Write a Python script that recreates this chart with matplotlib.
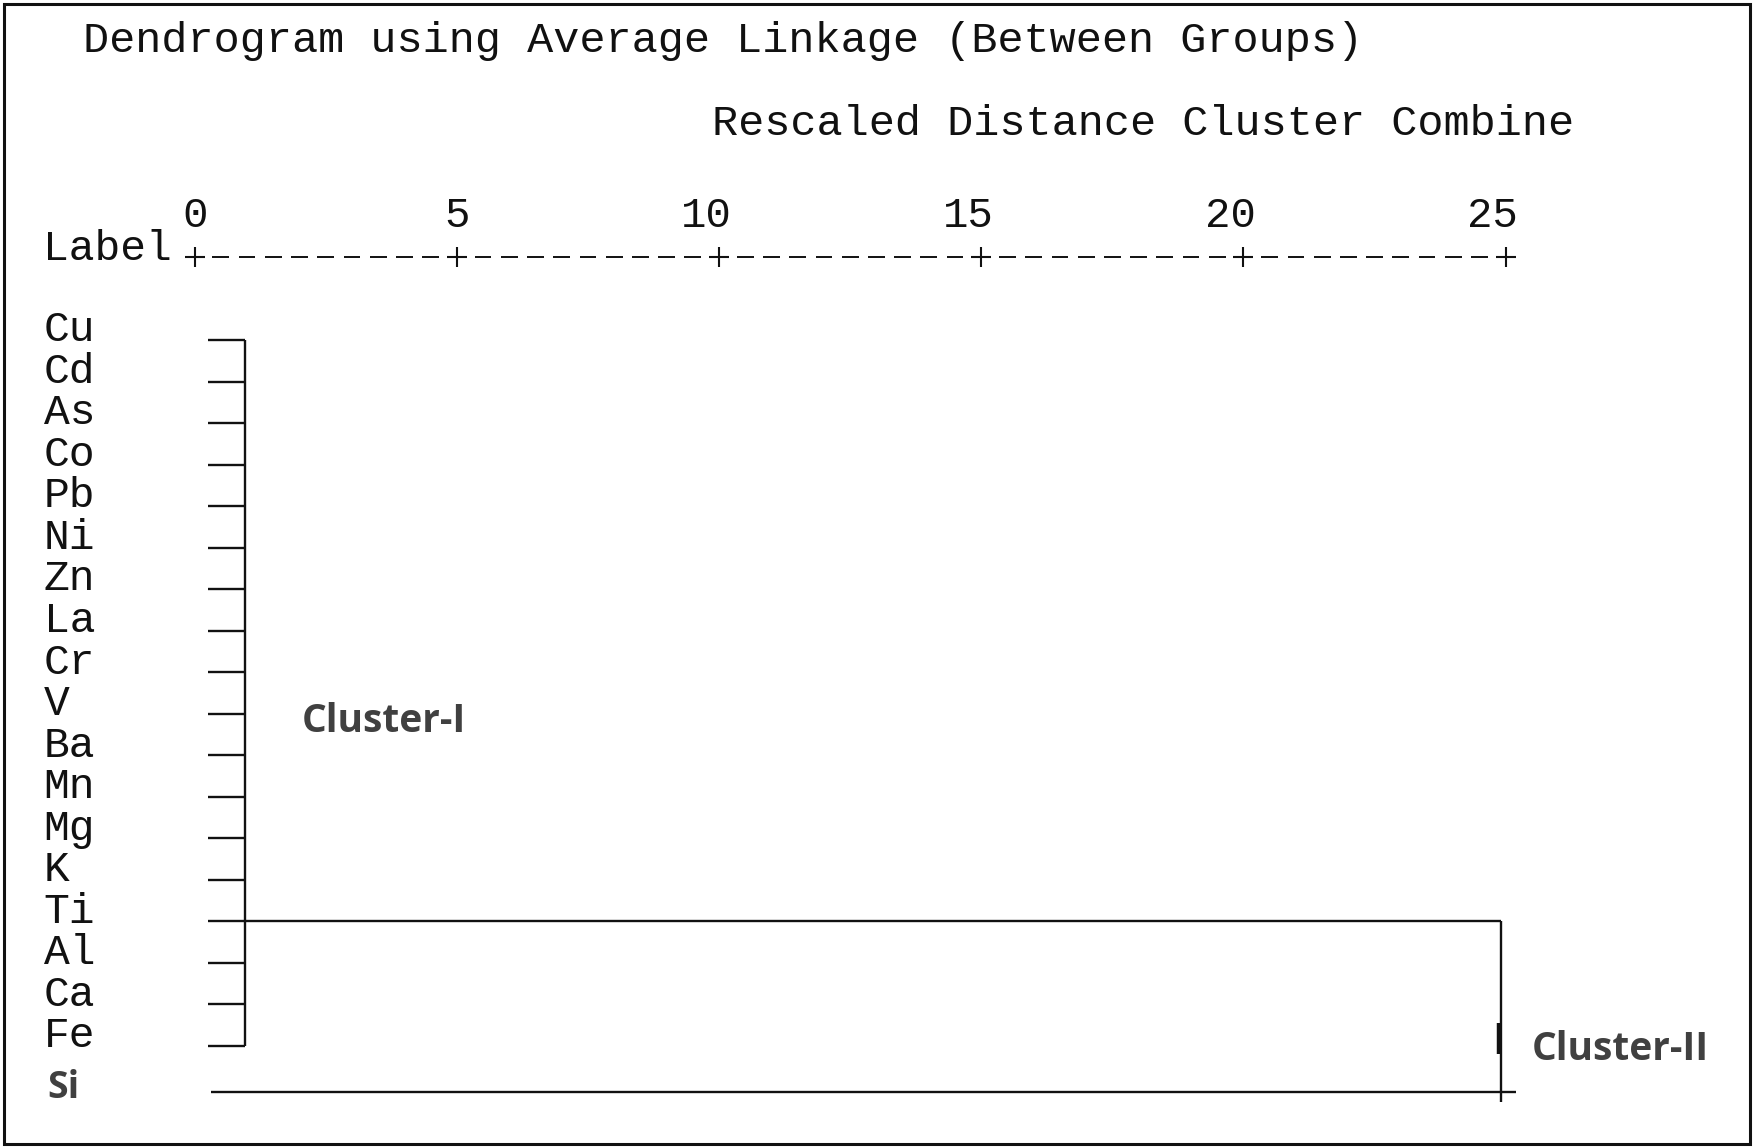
import numpy as np
import matplotlib
matplotlib.use("Agg")
import matplotlib.pyplot as plt
from matplotlib.patches import Rectangle

# ---------------- data ----------------
title = "Dendrogram using Average Linkage (Between Groups)"
subtitle = "Rescaled Distance Cluster Combine"
axis_label = "Label"
tick_values = [0, 5, 10, 15, 20, 25]
tick_labels = ["0", "5", "10", "15", "20", "25"]
cluster1_labels = ["Cu", "Cd", "As", "Co", "Pb", "Ni", "Zn", "La", "Cr", "V",
                   "Ba", "Mn", "Mg", "K", "Ti", "Al", "Ca", "Fe"]
outlier_label = "Si"
leaf_start = 0.26        # where leaf stubs begin (rescaled distance)
cluster1_join = 0.96     # rescaled distance where Cluster-I members combine
final_join = 24.92       # rescaled distance where Si joins Cluster-I
si_end = 25.19
connector_label = "Ti"   # row from which the final connector leaves
cluster_names = ["Cluster-I", "Cluster-II"]

# ---------------- figure ----------------
fig = plt.figure(figsize=(17.54, 11.48), dpi=100)
ax = fig.add_axes([0, 0, 1, 1])
ax.set_xlim(-3.711, 29.735)
ax.set_ylim(19.458, -8.191)
ax.axis("off")

mono = "Liberation Mono"
sans = ["Open Sans", "DejaVu Sans"]
ink = "#111111"
lw = 1.7

# titles
ax.text(-2.124, -6.95, title, family=mono, fontsize=31.3, color=ink, va="baseline", ha="left")
ax.text(9.862, -4.94, subtitle, family=mono, fontsize=31.3, color=ink, va="baseline", ha="left")

# ruler (axis) with tick numbers
ticks = np.array(tick_values, dtype=float)
for t, lab in zip(ticks, tick_labels):
    ax.text(t - (len(lab) - 1) * 0.25, -2.73, lab, family=mono, fontsize=30.5,
            color=ink, va="baseline", ha="center")
ax.text(-2.89, -1.93, axis_label, family=mono, fontsize=31, color=ink,
        va="baseline", ha="left")
ax.plot(ticks, np.full_like(ticks, -2.0), ls="none", marker="+", ms=15,
        mew=1.5, color=ink)
dash_centers = (ticks[:-1, None] + 0.5 * np.arange(1, 10)[None, :]).ravel()
ax.hlines(np.full_like(dash_centers, -2.0), dash_centers - 0.16,
          dash_centers + 0.16, color=ink, lw=1.4)

# leaf labels
rows = np.arange(len(cluster1_labels))
for r, lab in zip(rows, cluster1_labels):
    ax.text(-2.88, r + 0.03, lab, family=mono, fontsize=31, color=ink,
            va="baseline", ha="left")
si_row = len(cluster1_labels) + 0.1
ax.text(-2.80, si_row + 0.15, outlier_label, family=sans, fontsize=27,
        fontweight="bold", color="#404040", va="baseline", ha="left")

# dendrogram lines
ax.hlines(rows, leaf_start, cluster1_join, color=ink, lw=lw)
ax.vlines(cluster1_join, rows[0], rows[-1], color=ink, lw=lw)
ti_row = cluster1_labels.index(connector_label)
ax.hlines(ti_row, cluster1_join, final_join, color=ink, lw=lw)
ax.vlines(final_join, ti_row, si_row + 0.25, color=ink, lw=lw)
ax.hlines(si_row, leaf_start + 0.05, si_end, color=ink, lw=lw)
ax.vlines(final_join - 0.05, 16.45, 17.2, color=ink, lw=3.2)

# cluster annotations
ax.text(2.04, 9.43, cluster_names[0], family=sans, fontsize=28, fontweight="bold",
        color="#404040", va="baseline", ha="left")
ax.text(25.49, 17.34, cluster_names[1], family=sans, fontsize=28, fontweight="bold",
        color="#404040", va="baseline", ha="left")

# frame
fig.patches.append(Rectangle((0.0025, 0.0035), 0.995, 0.993, transform=fig.transFigure,
                             fill=False, lw=2.2, edgecolor="#111111"))

fig.savefig("out.png", dpi=100)
